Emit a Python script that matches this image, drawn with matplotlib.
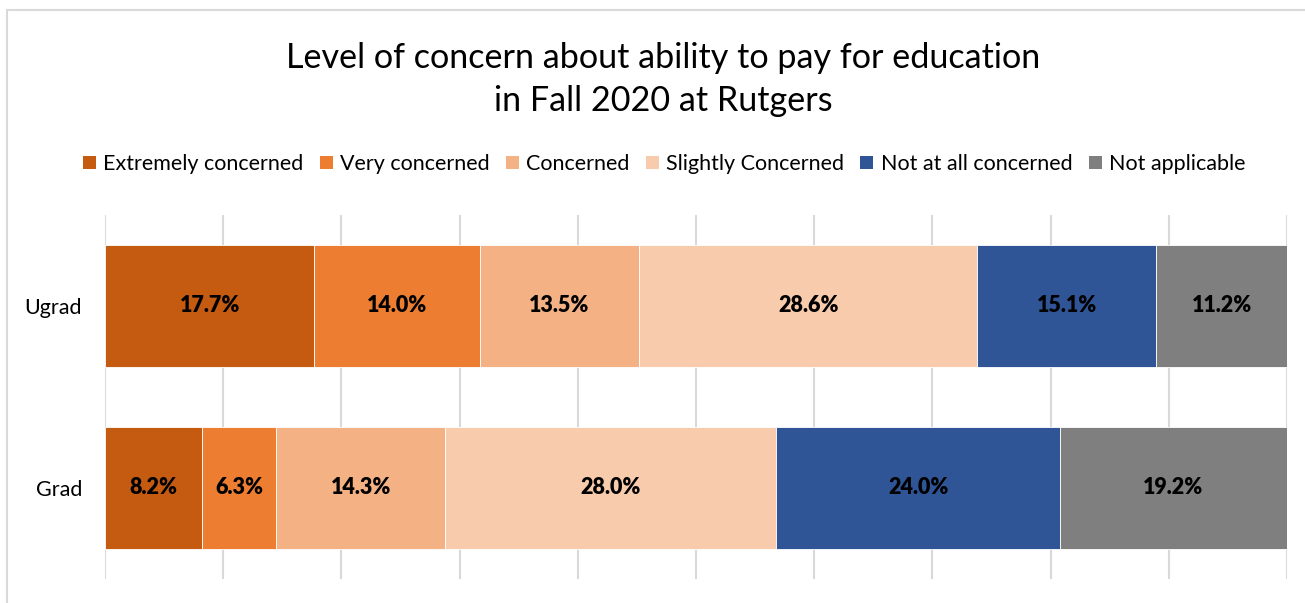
import matplotlib.pyplot as plt
from matplotlib.patches import Patch, Rectangle

groups = ['Ugrad', 'Grad']
levels = ['Extremely concerned', 'Very concerned', 'Concerned',
          'Slightly Concerned', 'Not at all concerned', 'Not applicable']
ugrad = [17.7, 14.0, 13.5, 28.6, 15.1, 11.2]
grad = [8.2, 6.3, 14.3, 28.0, 24.0, 19.2]
colors = ['#C55A11', '#ED7D31', '#F4B183', '#F8CBAD', '#2F5597', '#7F7F7F']

plt.rcParams['font.family'] = ['Lato', 'DejaVu Sans']

fig = plt.figure(figsize=(13.05, 6.03), dpi=100)
ax = fig.add_axes([105 / 1305, 24 / 603, 1182 / 1305, 364 / 603])

# outer chart border (only top and left edges show)
fig.add_artist(Rectangle((7 / 1305, -0.05), 1.1, (603 - 10) / 603 + 0.05,
                         transform=fig.transFigure, fill=False,
                         edgecolor='#D9D9D9', lw=1.5))

series = [ugrad, grad]
for yi, vals in enumerate(series):
    left = 0
    for v, c in zip(vals, colors):
        ax.barh(yi, v, left=left, height=0.67, color=c,
                edgecolor='white', linewidth=0.6, zorder=3)
        ax.text(left + v / 2, yi, f'{v:.1f}%', ha='center', va='center',
                fontsize=15.5, fontweight='heavy', color='black', zorder=4)
        left += v

ax.set_xlim(0, 100)
ax.set_ylim(1.5, -0.5)
ax.set_xticks(range(0, 101, 10))
ax.set_xticklabels([])
ax.tick_params(axis='x', length=0)
ax.grid(axis='x', color='#D9D9D9', linewidth=1.5, zorder=0)
ax.set_yticks([0, 1])
ax.set_yticklabels(groups, fontsize=15.5)
ax.tick_params(axis='y', length=0, pad=16.5)
for s in ax.spines.values():
    s.set_visible(False)

fig.text(0.508, 0.868, 'Level of concern about ability to pay for education\nin Fall 2020 at Rutgers',
         ha='center', va='center', fontsize=24.6, linespacing=1.45)

handles = [Patch(facecolor=c, label=l) for c, l in zip(colors, levels)]
fig.legend(handles=handles, loc='center', bbox_to_anchor=(0.509, 0.728), ncol=6,
           frameon=False, fontsize=15.5, handlelength=0.6, handleheight=0.6,
           handletextpad=0.35, columnspacing=0.75)

fig.savefig('out.png', dpi=100)
